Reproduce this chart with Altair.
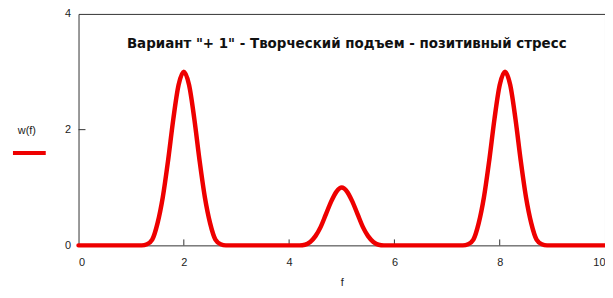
import altair as alt
import pandas as pd

# curve readings w(f)
f_vals = [0.0, 1.0, 1.1, 1.2, 1.3, 1.4, 1.5, 1.6, 1.7, 1.8, 1.9, 2.0, 2.1, 2.2, 2.3, 2.4, 2.5, 2.6, 2.7, 2.8, 2.9,
          4.0, 4.1, 4.2, 4.3, 4.4, 4.5, 4.6, 4.7, 4.8, 4.9, 5.0, 5.1, 5.2, 5.3, 5.4, 5.5, 5.6, 5.7, 5.8, 5.9, 6.0,
          7.0, 7.1, 7.2, 7.3, 7.4, 7.5, 7.6, 7.7, 7.8, 7.9, 8.0, 8.1, 8.2, 8.3, 8.4, 8.5, 8.6, 8.7, 8.8, 8.9, 9.0, 10.0]
w_vals = [0.0, 0.0, 0.0, 0.0, 0.02, 0.1, 0.38, 0.83, 1.46, 2.18, 2.77, 3.0, 2.77, 2.18, 1.46, 0.83, 0.38, 0.1, 0.02, 0.0, 0.0,
          0.0, 0.0, 0.0, 0.01, 0.06, 0.16, 0.32, 0.54, 0.76, 0.93, 1.0, 0.93, 0.76, 0.54, 0.32, 0.16, 0.06, 0.01, 0.0, 0.0, 0.0,
          0.0, 0.0, 0.0, 0.0, 0.02, 0.1, 0.38, 0.83, 1.46, 2.18, 2.77, 3.0, 2.77, 2.18, 1.46, 0.83, 0.38, 0.1, 0.02, 0.0, 0.0, 0.0]

x_ticks = [0, 2, 4, 6, 8, 10]
y_ticks = [0, 2, 4]
inner_x_ticks = [2, 4, 6, 8]
inner_y_ticks = [2]
title_text = 'Вариант "+ 1"  - Творческий подъем - позитивный стресс'
legend_text = "w(f)"

W, H = 530, 233
FONT = "Liberation Sans"

df = pd.DataFrame({"f": f_vals, "w": w_vals})

xs = alt.Scale(domain=[0, 10], nice=False)
ys = alt.Scale(domain=[0, 4], nice=False)

line = alt.Chart(df).mark_line(color="#ee0000", strokeWidth=4.5, interpolate="monotone",
                               strokeJoin="round", strokeCap="round").encode(
    x=alt.X("f:Q", scale=xs, title="f",
            axis=alt.Axis(values=x_ticks, format="d", ticks=False, grid=False, domain=False,
                          labelPadding=11, labelFont=FONT, labelFontSize=11, labelColor="#222",
                          titleFont=FONT, titleFontSize=11, titleFontWeight="normal", titlePadding=9,
                          titleColor="#222")),
    y=alt.Y("w:Q", scale=ys, title=None,
            axis=alt.Axis(values=y_ticks, format="d", ticks=False, grid=False, domain=False,
                          labelPadding=8, labelFont=FONT, labelFontSize=11, labelColor="#222")),
)

xt = alt.Chart(pd.DataFrame({"t": inner_x_ticks})).mark_rule(color="#333", strokeWidth=1).encode(
    x=alt.X("t:Q", scale=xs), y=alt.value(H), y2=alt.value(H - 6))
yt = alt.Chart(pd.DataFrame({"t": inner_y_ticks})).mark_rule(color="#333", strokeWidth=1).encode(
    y=alt.Y("t:Q", scale=ys), x=alt.value(0), x2=alt.value(7))

title = alt.Chart(pd.DataFrame({"t": [title_text]})).mark_text(
    font="DejaVu Sans", fontSize=13.5, fontWeight="bold", color="#111", align="center", baseline="middle").encode(
    text="t:N", x=alt.value(270), y=alt.value(30))

leg_t = alt.Chart(pd.DataFrame({"t": [legend_text]})).mark_text(
    font=FONT, fontSize=11, color="#222", align="center", baseline="middle").encode(
    text="t:N", x=alt.value(-52), y=alt.value(118))
leg_l = alt.Chart(pd.DataFrame({"t": [legend_text]})).mark_rule(color="#ee0000", strokeWidth=4).encode(
    x=alt.value(-66), x2=alt.value(-33), y=alt.value(140))

chart = alt.layer(xt, yt, line, title, leg_t, leg_l).properties(
    width=W, height=H,
    autosize=alt.AutoSizeParams(type="none"),
    padding={"left": 71, "top": 5, "right": 0, "bottom": 50},
    background="white",
).configure_view(stroke="#333", strokeWidth=1)

chart.save("out.html", embed_options={"renderer": "svg", "actions": False})
